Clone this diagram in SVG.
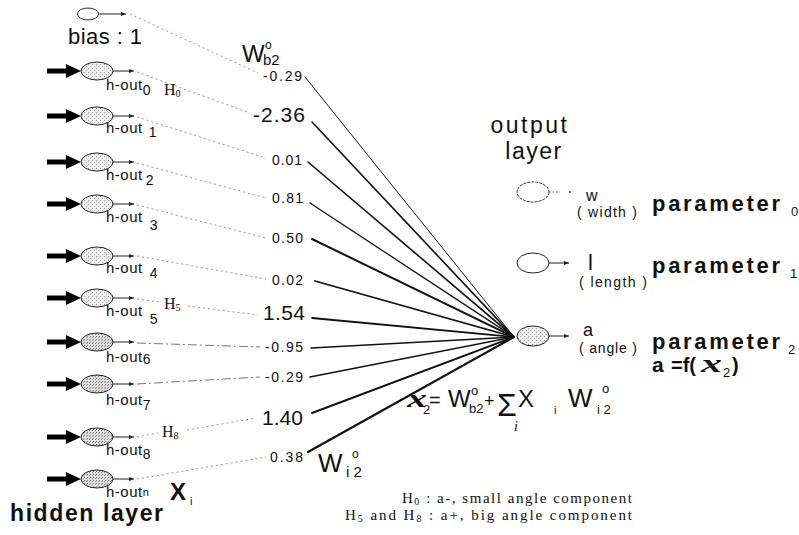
<svg xmlns="http://www.w3.org/2000/svg" width="799" height="535" viewBox="0 0 799 535">
<defs>
<pattern id="stipA" width="4" height="4" patternUnits="userSpaceOnUse"><rect width="4" height="4" fill="#efefef"/><rect x="0" y="0" width="1" height="1" fill="#999"/><rect x="2" y="2" width="1" height="1" fill="#aaa"/></pattern>
<pattern id="stipB" width="3" height="3" patternUnits="userSpaceOnUse"><rect width="3" height="3" fill="#e0e0e0"/><rect x="0" y="0" width="1" height="1" fill="#777"/><rect x="2" y="1" width="1" height="1" fill="#888"/></pattern>
<marker id="bigHead" markerUnits="userSpaceOnUse" markerWidth="15" markerHeight="14" refX="1" refY="7" orient="auto" viewBox="0 0 15 14"><path d="M0,0 L15,7 L0,14 Z" fill="#000"/></marker>
<marker id="smallHead" markerUnits="userSpaceOnUse" markerWidth="5" markerHeight="4" refX="5" refY="2" orient="auto" viewBox="0 0 5 4"><path d="M0,0 L5,2 L0,4 Z" fill="#222"/></marker>
</defs>
<style>
text{font-family:"Liberation Sans",Arial,sans-serif;fill:#111}
.serif{font-family:"Liberation Serif","Times New Roman",serif}
.node{stroke:#222;stroke-width:1}
.hid{fill:url(#stipA)}
.hid2{fill:url(#stipB)}
.in{stroke:#000;stroke-width:5;marker-end:url(#bigHead)}
.stub{stroke:#222;stroke-width:1;marker-end:url(#smallHead)}
.dash{fill:none;stroke:#888;stroke-width:0.9;stroke-dasharray:2 3}
.dd{fill:none;stroke:#666;stroke-width:0.9;stroke-dasharray:9 3 2 3}
.conn{fill:none;stroke:#111;stroke-linecap:round}
.hl{font-size:15px;letter-spacing:0.5px}
.sub{font-size:14px}
.wt{font-size:14px}
.wb{font-size:21px}
.par{font-size:22px;font-weight:bold}
</style>
<rect width="799" height="535" fill="#fff"/>

<g id="connectors">
<line class="in" x1="47" y1="71" x2="67" y2="71"/>
<line class="in" x1="47" y1="116" x2="67" y2="116"/>
<line class="in" x1="47" y1="162" x2="67" y2="162"/>
<line class="in" x1="47" y1="204" x2="67" y2="204"/>
<line class="in" x1="47" y1="256" x2="67" y2="256"/>
<line class="in" x1="47" y1="298" x2="67" y2="298"/>
<line class="in" x1="47" y1="342" x2="67" y2="342"/>
<line class="in" x1="47" y1="384" x2="67" y2="384"/>
<line class="in" x1="47" y1="437" x2="67" y2="437"/>
<line class="in" x1="47" y1="479" x2="67" y2="479"/>

<line class="stub" x1="99" y1="14" x2="126" y2="14"/>
<line class="stub" x1="113" y1="71" x2="134" y2="71"/>
<line class="stub" x1="113" y1="116" x2="134" y2="116"/>
<line class="stub" x1="113" y1="162" x2="134" y2="162"/>
<line class="stub" x1="113" y1="204" x2="134" y2="204"/>
<line class="stub" x1="113" y1="256" x2="134" y2="256"/>
<line class="stub" x1="113" y1="298" x2="134" y2="298"/>
<line class="stub" x1="113" y1="342" x2="134" y2="342"/>
<line class="stub" x1="113" y1="384" x2="134" y2="384"/>
<line class="stub" x1="113" y1="437" x2="134" y2="437"/>
<line class="stub" x1="113" y1="479" x2="134" y2="479"/>

<path class="dash" d="M130,14 L258,73"/>
<path class="dash" d="M137,72 L250,113"/>
<path class="dash" d="M137,117 L266,158"/>
<path class="dash" d="M137,163 L266,198"/>
<path class="dash" d="M137,205 L266,238"/>
<path class="dash" d="M137,256 L266,279"/>
<path class="dash" d="M137,299 L160,302 M188,306 L258,315"/>
<path class="dd" d="M137,343 L260,347"/>
<path class="dd" d="M137,384 L260,377"/>
<path class="dash" d="M137,437 L158,433 M187,430 L256,418"/>
<path class="dash" d="M137,479 L266,457"/>

<path class="conn" stroke-width="1" d="M305,77 L514,337"/>
<path class="conn" stroke-width="1.6" d="M312,122 L514,337"/>
<path class="conn" stroke-width="1.6" d="M308,162 L514,337"/>
<path class="conn" stroke-width="1.3" d="M310,203 L514,337"/>
<path class="conn" stroke-width="2" d="M312,239 L514,337"/>
<path class="conn" stroke-width="1.8" d="M315,281 L514,337"/>
<path class="conn" stroke-width="1.8" d="M312,318 L514,337"/>
<path class="conn" stroke-width="1.6" d="M311,348 L514,337"/>
<path class="conn" stroke-width="1.4" d="M310,377 L514,337"/>
<path class="conn" stroke-width="2" d="M312,413 L514,337"/>
<path class="conn" stroke-width="2.2" d="M308,452 L514,337"/>

<path d="M549,192 L560,192" stroke="#555" stroke-width="1" stroke-dasharray="1.5 2"/>
<circle cx="570" cy="192" r="1" fill="#333"/>
<line class="stub" x1="549" y1="263" x2="569" y2="263"/>
<line class="stub" x1="549" y1="336" x2="569" y2="336"/>
</g>

<g id="weights">
<text x="242" y="62" font-size="24">W</text><text x="265" y="49" font-size="12">o</text><text x="263" y="65" font-size="15">b2</text>
<text class="wt" x="263" y="81" textLength="39">-0.29</text>
<text class="wb" x="253" y="122" textLength="52">-2.36</text>
<text class="wt" x="272" y="165" textLength="30">0.01</text>
<text class="wt" x="272" y="203" textLength="31">0.81</text>
<text class="wt" x="272" y="243" textLength="31">0.50</text>
<text class="wt" x="272" y="285" textLength="31">0.02</text>
<text class="wb" x="263" y="320" textLength="42">1.54</text>
<text class="wt" x="265" y="352" textLength="38">-0.95</text>
<text class="wt" x="265" y="382" textLength="38">-0.29</text>
<text class="wb" x="262" y="425" textLength="41">1.40</text>
<text class="wt" x="270" y="462" textLength="33">0.38</text>
<text x="318" y="472" font-size="26">W</text><text x="352" y="458" font-size="12">o</text><text x="346" y="477" font-size="15">i 2</text>
<text class="serif" x="164" y="95" font-size="16">H<tspan font-size="10" dy="2">0</tspan></text>
<text class="serif" x="164" y="309" font-size="16">H<tspan font-size="10" dy="2">5</tspan></text>
<text class="serif" x="162" y="437" font-size="16">H<tspan font-size="10" dy="2">8</tspan></text>
</g>

<g id="bias">
<ellipse cx="88" cy="14" rx="10.5" ry="6" fill="#fff" stroke="#333" stroke-width="1"/>
<text x="68" y="44" font-size="22" textLength="74">bias : 1</text>
</g>
<g id="h-out0"><ellipse class="node hid" cx="97" cy="71" rx="16" ry="9"/><text class="hl" x="106" y="90">h-out<tspan class="sub" dy="5">0</tspan></text></g>
<g id="h-out1"><ellipse class="node hid" cx="97" cy="116" rx="16" ry="9"/><text class="hl" x="106" y="133">h-out<tspan class="sub" dx="6" dy="4">1</tspan></text></g>
<g id="h-out2"><ellipse class="node hid" cx="97" cy="162" rx="16" ry="9"/><text class="hl" x="106" y="180">h-out<tspan class="sub" dx="3" dy="5">2</tspan></text></g>
<g id="h-out3"><ellipse class="node hid" cx="97" cy="204" rx="16" ry="9"/><text class="hl" x="106" y="222">h-out<tspan class="sub" dx="7" dy="8">3</tspan></text></g>
<g id="h-out4"><ellipse class="node hid" cx="97" cy="256" rx="16" ry="9"/><text class="hl" x="106" y="273">h-out<tspan class="sub" dx="7" dy="5">4</tspan></text></g>
<g id="h-out5"><ellipse class="node hid" cx="97" cy="298" rx="16" ry="9"/><text class="hl" x="106" y="316">h-out<tspan class="sub" dx="7" dy="8">5</tspan></text></g>
<g id="h-out6"><ellipse class="node hid2" cx="97" cy="342" rx="16" ry="9"/><text class="hl" x="106" y="362">h-out<tspan class="sub" dy="2">6</tspan></text></g>
<g id="h-out7"><ellipse class="node hid2" cx="97" cy="384" rx="16" ry="9"/><text class="hl" x="106" y="405">h-out<tspan class="sub" dy="5">7</tspan></text></g>
<g id="h-out8"><ellipse class="node hid2" cx="97" cy="437" rx="16" ry="9"/><text class="hl" x="106" y="455">h-out<tspan class="sub" dy="4">8</tspan></text></g>
<g id="h-outn"><ellipse class="node hid2" cx="97" cy="479" rx="16" ry="9"/><text class="hl" x="106" y="497">h-out<tspan font-size="11" dy="-1">n</tspan></text>
<text x="170" y="500" font-size="24" font-weight="bold">X</text><text x="190" y="505" font-size="11">i</text></g>
<text x="10" y="521" font-size="23" font-weight="bold" textLength="153">hidden  layer</text>

<g id="output-layer-title">
<text x="530" y="133" font-size="23" text-anchor="middle" letter-spacing="2.5">output</text>
<text x="534" y="159" font-size="23" text-anchor="middle" letter-spacing="1.5">layer</text>
</g>
<g id="out-w">
<ellipse cx="533" cy="192" rx="16" ry="10" fill="#fff" stroke="#333" stroke-width="1" stroke-dasharray="3 1"/>
<text x="586" y="201" font-size="16">w</text>
<text x="577" y="217" font-size="14" textLength="60">( width )</text>
<text class="par" x="652" y="211" textLength="128">parameter</text><text x="791" y="216" font-size="13">0</text>
</g>
<g id="out-l">
<ellipse cx="533" cy="263" rx="16" ry="10" fill="#fff" stroke="#222" stroke-width="1"/>
<text x="588" y="270" font-size="22">l</text>
<text x="579" y="287" font-size="14" textLength="68">( length )</text>
<text class="par" x="652" y="273" textLength="128">parameter</text><text x="790" y="278" font-size="13">1</text>
</g>
<g id="out-a">
<ellipse cx="533" cy="336" rx="16" ry="10" fill="url(#stipA)" stroke="#222" stroke-width="1"/>
<text x="583" y="336" font-size="18">a</text>
<text x="579" y="353" font-size="14" textLength="58">( angle )</text>
<text class="par" x="652" y="349" textLength="128">parameter</text><text x="788" y="354" font-size="13">2</text>
<text x="652" y="372" font-size="21" font-weight="bold">a</text>
<text x="671" y="372" font-size="20" font-weight="bold">=f(</text>
<text class="serif" x="701" y="372" font-size="25" font-weight="bold" font-style="italic" textLength="21" lengthAdjust="spacingAndGlyphs">x</text>
<text x="723" y="377" font-size="13">2</text>
<text x="732" y="372" font-size="20" font-weight="bold">)</text>
</g>

<g id="formula">
<text class="serif" x="407" y="407" font-size="26" font-weight="bold" font-style="italic" textLength="20" lengthAdjust="spacingAndGlyphs">x</text>
<text x="423" y="414" font-size="13">2</text>
<text x="429" y="407" font-size="20">=</text>
<text x="448" y="407" font-size="24">W</text><text x="471" y="395" font-size="13">o</text><text x="469" y="413" font-size="13">b2</text>
<text x="484" y="407" font-size="18">+</text>
<text x="497" y="416" font-size="32">Σ</text>
<text class="serif" x="514" y="431" font-size="14" font-style="italic">i</text>
<text x="518" y="407" font-size="24">X</text>
<text x="554" y="414" font-size="11">i</text>
<text x="568" y="407" font-size="26">W</text><text x="602" y="393" font-size="13">o</text><text x="597" y="414" font-size="13">i 2</text>
</g>

<g id="notes">
<text class="serif" x="402" y="503" font-size="15" textLength="230">H<tspan font-size="10" dy="2">0</tspan><tspan dy="-2"> : a-, small angle component</tspan></text>
<text class="serif" x="345" y="520" font-size="15" textLength="287">H<tspan font-size="10" dy="2">5</tspan><tspan dy="-2"> and H</tspan><tspan font-size="10" dy="2">8</tspan><tspan dy="-2"> : a+,  big  angle component</tspan></text>
</g>
</svg>
